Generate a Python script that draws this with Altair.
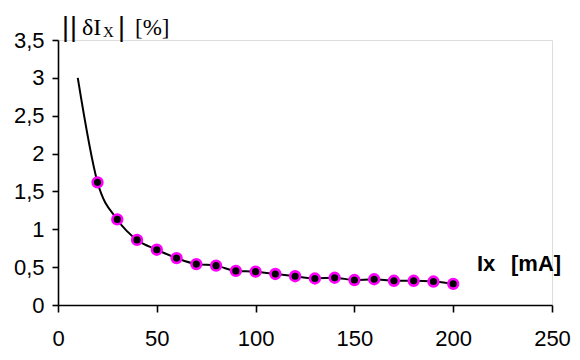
import altair as alt
import pandas as pd

# data
ix_ma = [20, 30, 40, 50, 60, 70, 80, 90, 100, 110, 120, 130, 140, 150, 160, 170, 180, 190, 200]
delta_pct = [1.62, 1.13, 0.86, 0.73, 0.62, 0.54, 0.52, 0.45, 0.44, 0.41, 0.38, 0.35, 0.36, 0.33, 0.34, 0.32, 0.32, 0.31, 0.28]
line_x = [10] + ix_ma
line_y = [3.0] + delta_pct

x_ticks = [0, 50, 100, 150, 200, 250]
y_ticks = [0.0, 0.5, 1.0, 1.5, 2.0, 2.5, 3.0, 3.5]

pts = pd.DataFrame({"x": ix_ma, "y": delta_pct})
ln = pd.DataFrame({"x": line_x, "y": line_y})

SANS = "Liberation Sans"
SERIF = "Liberation Serif"

x_axis = alt.Axis(values=x_ticks, title=None, grid=False, labelFont=SANS,
                  labelFontSize=22, labelColor="black", domainColor="black",
                  domainWidth=1.6, tickColor="black", tickWidth=1.6, tickSize=7,
                  labelPadding=16, labelOverlap=False, labelFlush=False)
y_axis = alt.Axis(values=y_ticks, title=None, grid=False, labelFont=SANS,
                  labelFontSize=22, labelColor="black", domainColor="black",
                  domainWidth=1.6, tickColor="black", tickWidth=1.6, tickSize=6,
                  labelPadding=8, labelOverlap=False, labelFlush=False,
                  labelExpr="replace(format(datum.value, '.1~f'), '.', ',')")

x_enc = alt.X("x:Q", scale=alt.Scale(domain=[0, 250], nice=False, zero=False), axis=x_axis)
y_enc = alt.Y("y:Q", scale=alt.Scale(domain=[0, 3.5], nice=False, zero=False), axis=y_axis)

line = alt.Chart(ln).mark_line(color="black", strokeWidth=2, interpolate="monotone").encode(x=x_enc, y=y_enc)
points = alt.Chart(pts).mark_point(shape="circle", filled=False, fill="black", fillOpacity=1,
                                   stroke="#FF00FF", strokeWidth=2.6, size=95, opacity=1).encode(x=x_enc, y=y_enc)

def txt(s, px, py, size, font, weight="normal", align="left"):
    return alt.Chart(pd.DataFrame({"t": [s]})).mark_text(
        text=s, font=font, fontSize=size, fontWeight=weight, align=align,
        baseline="alphabetic", color="black").encode(x=alt.value(px - 58), y=alt.value(py - 40))

labels = [
    txt("|", 62, 36, 27, SANS),
    txt("|", 70, 36, 27, SANS),
    txt("δI", 82, 35, 24, SERIF),
    txt("X", 103, 37, 15, SERIF),
    txt("|", 118, 36, 27, SANS),
    txt("[%]", 135, 35, 23, SERIF),
    txt("Ix", 477, 271, 22, SANS, "bold"),
    txt("[mA]", 511, 271, 22, SANS, "bold"),
]

chart = alt.layer(line, points, *labels).properties(
    width=494, height=265,
    autosize=alt.AutoSizeParams(type="none"),
    padding={"left": 50, "top": 32, "right": 20, "bottom": 47},
).configure_view(stroke=None).configure(background="white")

chart.save("out.html", embed_options={"renderer": "svg", "actions": False})
